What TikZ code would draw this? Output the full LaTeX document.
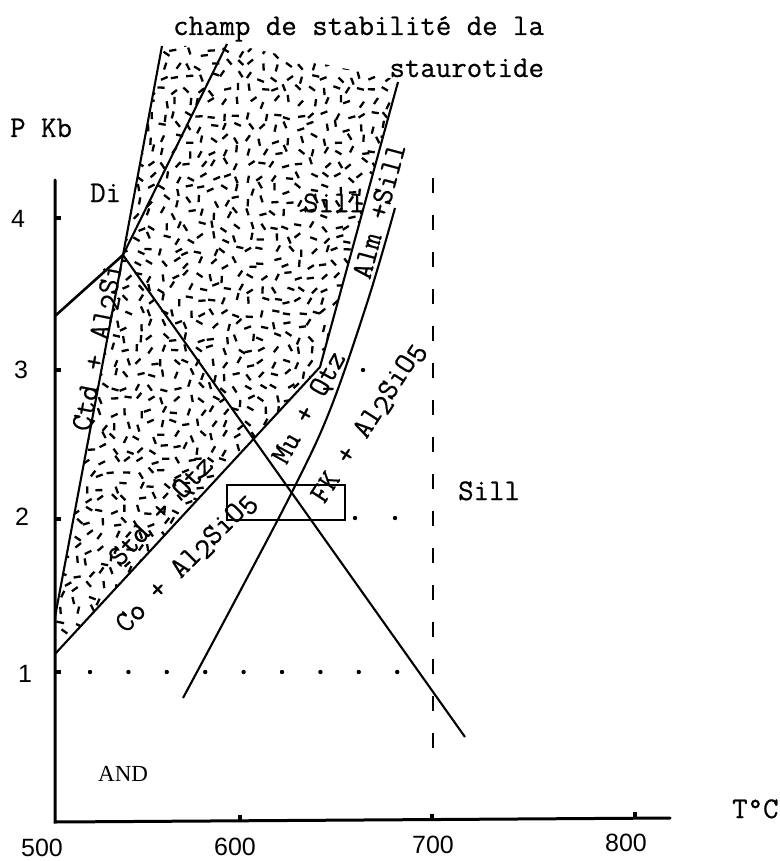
\documentclass[tikz,border=0pt]{standalone}
\usepackage{fontspec}
\setsansfont{Liberation Sans}
\setmonofont{Latin Modern Mono}[FakeBold=0.6]
\newfontfamily\andfont{Liberation Serif}
\newcommand\dn[1]{\smash{\raisebox{-0.35ex}{#1}}}
\tikzset{
  axisline/.style ={line width=3pt, line cap=round},
  axtick/.style   ={line width=3.2pt},
  reac/.style     ={line width=2.1pt},
  reacb/.style    ={line width=2.6pt},
  sillbound/.style={line width=2.6pt, dash pattern=on 15pt off 22pt},
  lbl/.style      ={font=\ttfamily\fontsize{30}{30}\selectfont, inner sep=0pt},
  num/.style      ={font=\sffamily\fontsize{25}{25}\selectfont, inner sep=0pt},
  andlbl/.style   ={font=\andfont\fontsize{23}{23}\selectfont, inner sep=0pt},
  grain/.style    ={line width=2.3pt},
}

\begin{document}
\begin{tikzpicture}[x=1pt, y=-1pt]
  \useasboundingbox (0,0) rectangle (779,861);
  % stippled field
  \begin{scope}
    \clip (162,46) -- (240,46) -- (398,80) -- (320,367) -- (55,654) -- (55,617) -- cycle;
    \pgfmathsetseed{4217}
    \foreach \i in {0,...,28}{
      \foreach \j in {0,...,50}{
        \pgfmathsetmacro\gx{52+12.4*\i+4*rand}
        \pgfmathsetmacro\gy{40+12.4*\j+4*rand}
        \pgfmathsetmacro\ga{180*rnd}
        \draw[grain] (\gx,\gy) ++(\ga:-3.6) -- ++(\ga:7.2);
      }
    }
  \end{scope}

  \coordinate (O) at (55,822);
  \coordinate (TP) at (123,255);
  \coordinate (K) at (320,367);
  \draw[axisline] (55,180) -- (O) -- (670,818);
  \foreach \yy in {218,370,519,672} \draw[axtick] (55,\yy) -- ++(6,0);
  \foreach \xx/\yy in {240/821,432/820,635/818} \draw[axtick] (\xx,\yy) -- ++(0,-6);

  \draw[reac] (162,46) -- (TP) -- (55,617);
  \draw[reac] (227,44) -- (TP);
  \draw[reacb] (55,316) -- (TP);
  \draw[reac] (TP) -- (465,737);
  \draw[reac] (55,654) -- (K) -- (398,82);
  \draw[reac] plot[smooth, tension=0.6] coordinates {(395,208) (368,300) (330,410) (293,490) (237,597) (183,698)};
  \draw[reac] (227,485) rectangle (345,520);
  \draw[sillbound] (433,178) -- (433,767);

  \foreach \k in {0,...,8} \fill (90+38.4*\k,672) circle (2.2pt);
  \foreach \xx/\yy in {355/518,395/518,363/370} \fill (\xx,\yy) circle (2.2pt);

  \node[lbl, anchor=base west] (champ) at (173,35) {champ de stabilité de la};
  \node[lbl, anchor=base east] (stau) at ([yshift=-42pt]champ.base east) {staurotide};
  \node[lbl, anchor=base west] (PKb) at (10,137) {P Kb};
  \node[lbl, anchor=base west] (Di) at (90,202) {Di};
  \node[lbl, anchor=base west] (TC) at (732,818) {T°C};
  \node[lbl, anchor=base west] (SillR) at (458,500) {Sill};
  \node[lbl] (SillS) at (334,203) {Sill};
  \node[andlbl, anchor=base west] (AND) at (98,781) {AND};

  \node[lbl, rotate=79] (Ctd) at (97,347) {Ctd + Al\dn{2}Si};
  \node[lbl, rotate=47] (Std) at (162,512) {Std + Qtz};
  \node[lbl, rotate=45] (Co) at (185,562) {Co + Al\dn{2}SiO\dn{5}};
  \node[lbl, rotate=61] (Mu) at (310,408) {Mu + Qtz};
  \node[lbl, rotate=57] (FK) at (367,422) {FK + Al\dn{2}SiO\dn{5}};
  \node[lbl, rotate=75] (Alm) at (379,211) {Alm +Sill};

  \node[num] (p4) at (18,219) {4};
  \node[num] (p3) at (21,370) {3};
  \node[num] (p2) at (22,517) {2};
  \node[num] (p1) at (25,674) {1};
  \node[num] (t5) at (42,848) {500};
  \node[num] (t6) at (235,847) {600};
  \node[num] (t7) at (433,845) {700};
  \node[num] (t8) at (626,843) {800};
\end{tikzpicture}
\end{document}
